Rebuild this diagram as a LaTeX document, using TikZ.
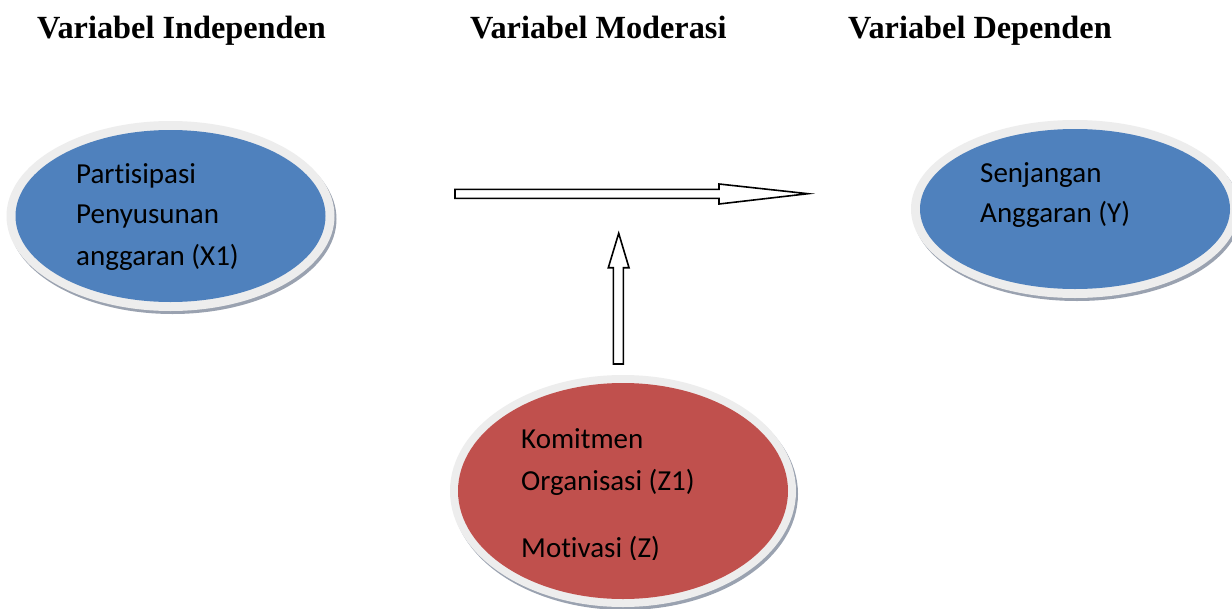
\documentclass[tikz,border=0pt]{standalone}
\usepackage{fontspec}
\setmainfont{Liberation Serif}
\newfontfamily\bodyfont[Ligatures=NoCommon]{Carlito}
\definecolor{nodeblue}{HTML}{4F81BD}
\definecolor{nodered}{HTML}{C0504D}
\definecolor{ringgray}{HTML}{EDEDED}
\definecolor{shadowgray}{HTML}{9AA2B0}
\tikzset{
  title/.style={anchor=base west, inner sep=0pt, font=\fontsize{32.3}{38}\selectfont\bfseries},
  label/.style={anchor=base west, inner sep=0pt, font=\bodyfont\fontsize{29}{34}\selectfont},
  blockarrow/.style={draw=black, line width=1.6pt, fill=white, line join=miter},
}
\newcommand{\bubble}[7]{%
  % #1 name, #2 x, #3 y, #4 rx, #5 ry, #6 ring extra, #7 fill colour
  \fill[shadowgray] (#2+2,#3+3) ellipse [x radius=#4+#6, y radius=#5+#6];
  \fill[ringgray] (#2,#3) ellipse [x radius=#4+#6, y radius=#5+#6];
  \fill[#7] (#2,#3) ellipse [x radius=#4, y radius=#5];
  \coordinate (#1) at (#2,#3);
}
\begin{document}
\begin{tikzpicture}[x=1pt,y=-1pt]
\useasboundingbox (0,0) rectangle (1232,608);
\fill[white] (0,0) rectangle (1232,608);

% titles
\node[title] (t1) at (37,38) {Variabel Independen};
\node[title] (t2) at (470,38) {Variabel Moderasi};
\node[title] (t3) at (848,38) {Variabel Dependen};

% ellipses
\bubble{x1}{170.5}{216}{155}{86}{9}{nodeblue}
\bubble{y}{1075}{209}{155}{80}{9}{nodeblue}
\bubble{z}{623}{491}{165}{108}{8}{nodered}

% texts
\node[label] (x1a) at (76,183) {Partisipasi};
\node[label] (x1b) at (76,223) {Penyusunan};
\node[label] (x1c) at (76,265) {anggaran (X1)};

\node[label] (ya) at (980,182) {Senjangan};
\node[label] (yb) at (980,222) {Anggaran (Y)};

\node[label] (za) at (521,448) {Komitmen};
\node[label] (zb) at (521,490) {Organisasi (Z1)};
\begin{scope}
  \clip (450,520) rectangle (800,559);
  \node[label] (zc) at (521,557) {Motivasi (Z)};
\end{scope}

% horizontal block arrow
\coordinate (hs) at (455,193.7);
\coordinate (ht) at (808,193.7);
\draw[blockarrow] (455,189.3) -- (719,189.3) -- (719,184) -- (ht) -- (719,204) -- (719,198.3) -- (455,198.3) -- cycle;

% vertical block arrow
\coordinate (vs) at (618.3,364);
\coordinate (vt) at (618.7,233.3);
\draw[blockarrow] (613.3,364) -- (613.3,267.7) -- (608.3,267.7) -- (vt) -- (629,267.7) -- (623.3,267.7) -- (623.3,364) -- cycle;
\end{tikzpicture}
\end{document}
